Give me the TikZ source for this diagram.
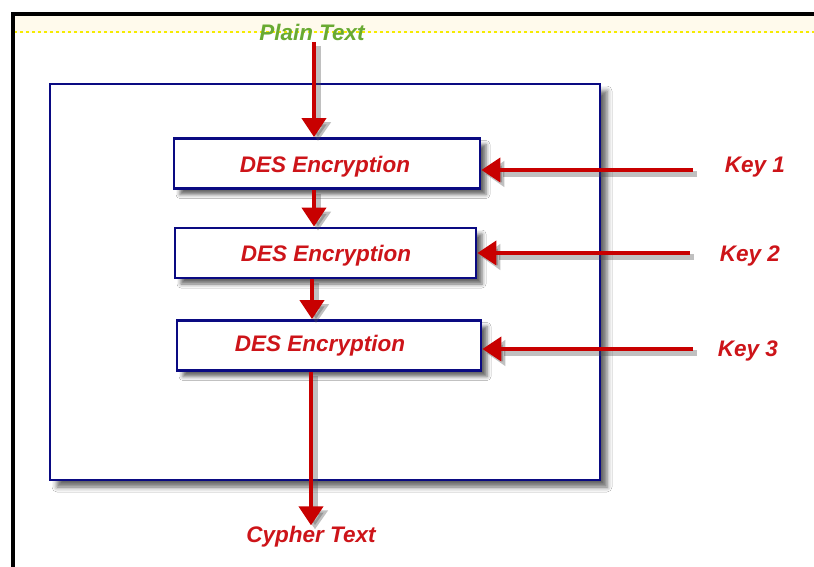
\documentclass[tikz,border=0pt]{standalone}
\usepackage{fontspec}
\setmainfont{Liberation Sans}
\usetikzlibrary{arrows.meta,shadows.blur,calc}
\definecolor{navy}{RGB}{10,10,130}
\definecolor{arrred}{RGB}{200,0,0}
\definecolor{txtred}{RGB}{205,20,25}
\definecolor{ptgreen}{RGB}{105,170,50}
\definecolor{cream}{RGB}{255,250,236}
\definecolor{dashyel}{RGB}{245,235,0}
\tikzset{
  x=1pt, y=-1pt,
  lbl/.style={font=\fontsize{22.5}{26}\selectfont\bfseries\itshape, text=txtred, inner sep=1pt},
  desbox/.style={draw=navy, line width=2.8pt, fill=white, minimum height=50pt, inner sep=0pt,
    blur shadow={shadow xshift=6pt, shadow yshift=-6pt, shadow blur radius=4pt, shadow opacity=60}},
  arr/.style={draw=arrred, line width=4pt, -{Triangle[length=19pt,width=24pt]}},
  arrsh/.style={draw=black!70, opacity=0.35, line width=6pt, -{Triangle[length=19pt,width=25pt]},
    transform canvas={shift={(4pt,-4pt)}}},
}
\begin{document}
\begin{tikzpicture}
\useasboundingbox (0,0) rectangle (814,567);
\fill[white] (0,0) rectangle (814,567);
% frame and header strip
\fill[cream] (14,16) rectangle (814,33);
\draw[dashyel, line width=1.2pt, dash pattern=on 3pt off 3pt] (14,32) -- (814,32);
\draw[black, line width=4pt] (12.5,567) -- (12.5,14.5) -- (814,14.5);
% big rectangle
\node[draw=navy, line width=2.8pt, fill=white, minimum width=550pt, minimum height=396pt, inner sep=0pt,
  blur shadow={shadow xshift=7pt, shadow yshift=-7pt, shadow blur radius=5pt, shadow opacity=60}]
  (outer) at (325,282) {};
% DES boxes
\node[desbox, minimum width=306pt] (d1) at (327,163.5) {};
\node[lbl] at (325,167) {DES Encryption};
\node[desbox, minimum width=301pt] (d2) at (325.5,253) {};
\node[lbl] at (326,255.5) {DES Encryption};
\node[desbox, minimum width=304pt] (d3) at (329,345.5) {};
\node[lbl] at (320,345.5) {DES Encryption};
% labels
\node[lbl, text=ptgreen] (pt) at (312,32) {Plain Text};
\node[lbl] (ct) at (311,537) {Cypher Text};
\node[lbl] (k1) at (755,167) {Key 1};
\node[lbl] (k2) at (750,255.5) {Key 2};
\node[lbl] (k3) at (748,350.5) {Key 3};
% connector columns / key arrow starts
\coordinate (c1) at (314,42);
\coordinate (c2) at (312,0);
\coordinate (c3) at (311,0);
\coordinate (k1a) at (693,170);
\coordinate (k2a) at (690,253);
\coordinate (k3a) at (693,349);
% arrow shadows
\draw[arrsh] (c1) -- (c1 |- d1.north);
\draw[arrsh] (d1.south -| c1) -- (d2.north -| c1);
\draw[arrsh] (d2.south -| c2) -- (d3.north -| c2);
\draw[arrsh] (d3.south -| c3) -- (ct.north -| c3);
\draw[arrsh] (k1a) -- (k1a -| d1.east);
\draw[arrsh] (k2a) -- (k2a -| d2.east);
\draw[arrsh] (k3a) -- (k3a -| d3.east);
% arrows
\draw[arr] (c1) -- (c1 |- d1.north);
\draw[arr] (d1.south -| c1) -- (d2.north -| c1);
\draw[arr] (d2.south -| c2) -- (d3.north -| c2);
\draw[arr] (d3.south -| c3) -- (ct.north -| c3);
\draw[arr] (k1a) -- (k1a -| d1.east);
\draw[arr] (k2a) -- (k2a -| d2.east);
\draw[arr] (k3a) -- (k3a -| d3.east);
\end{tikzpicture}
\end{document}
